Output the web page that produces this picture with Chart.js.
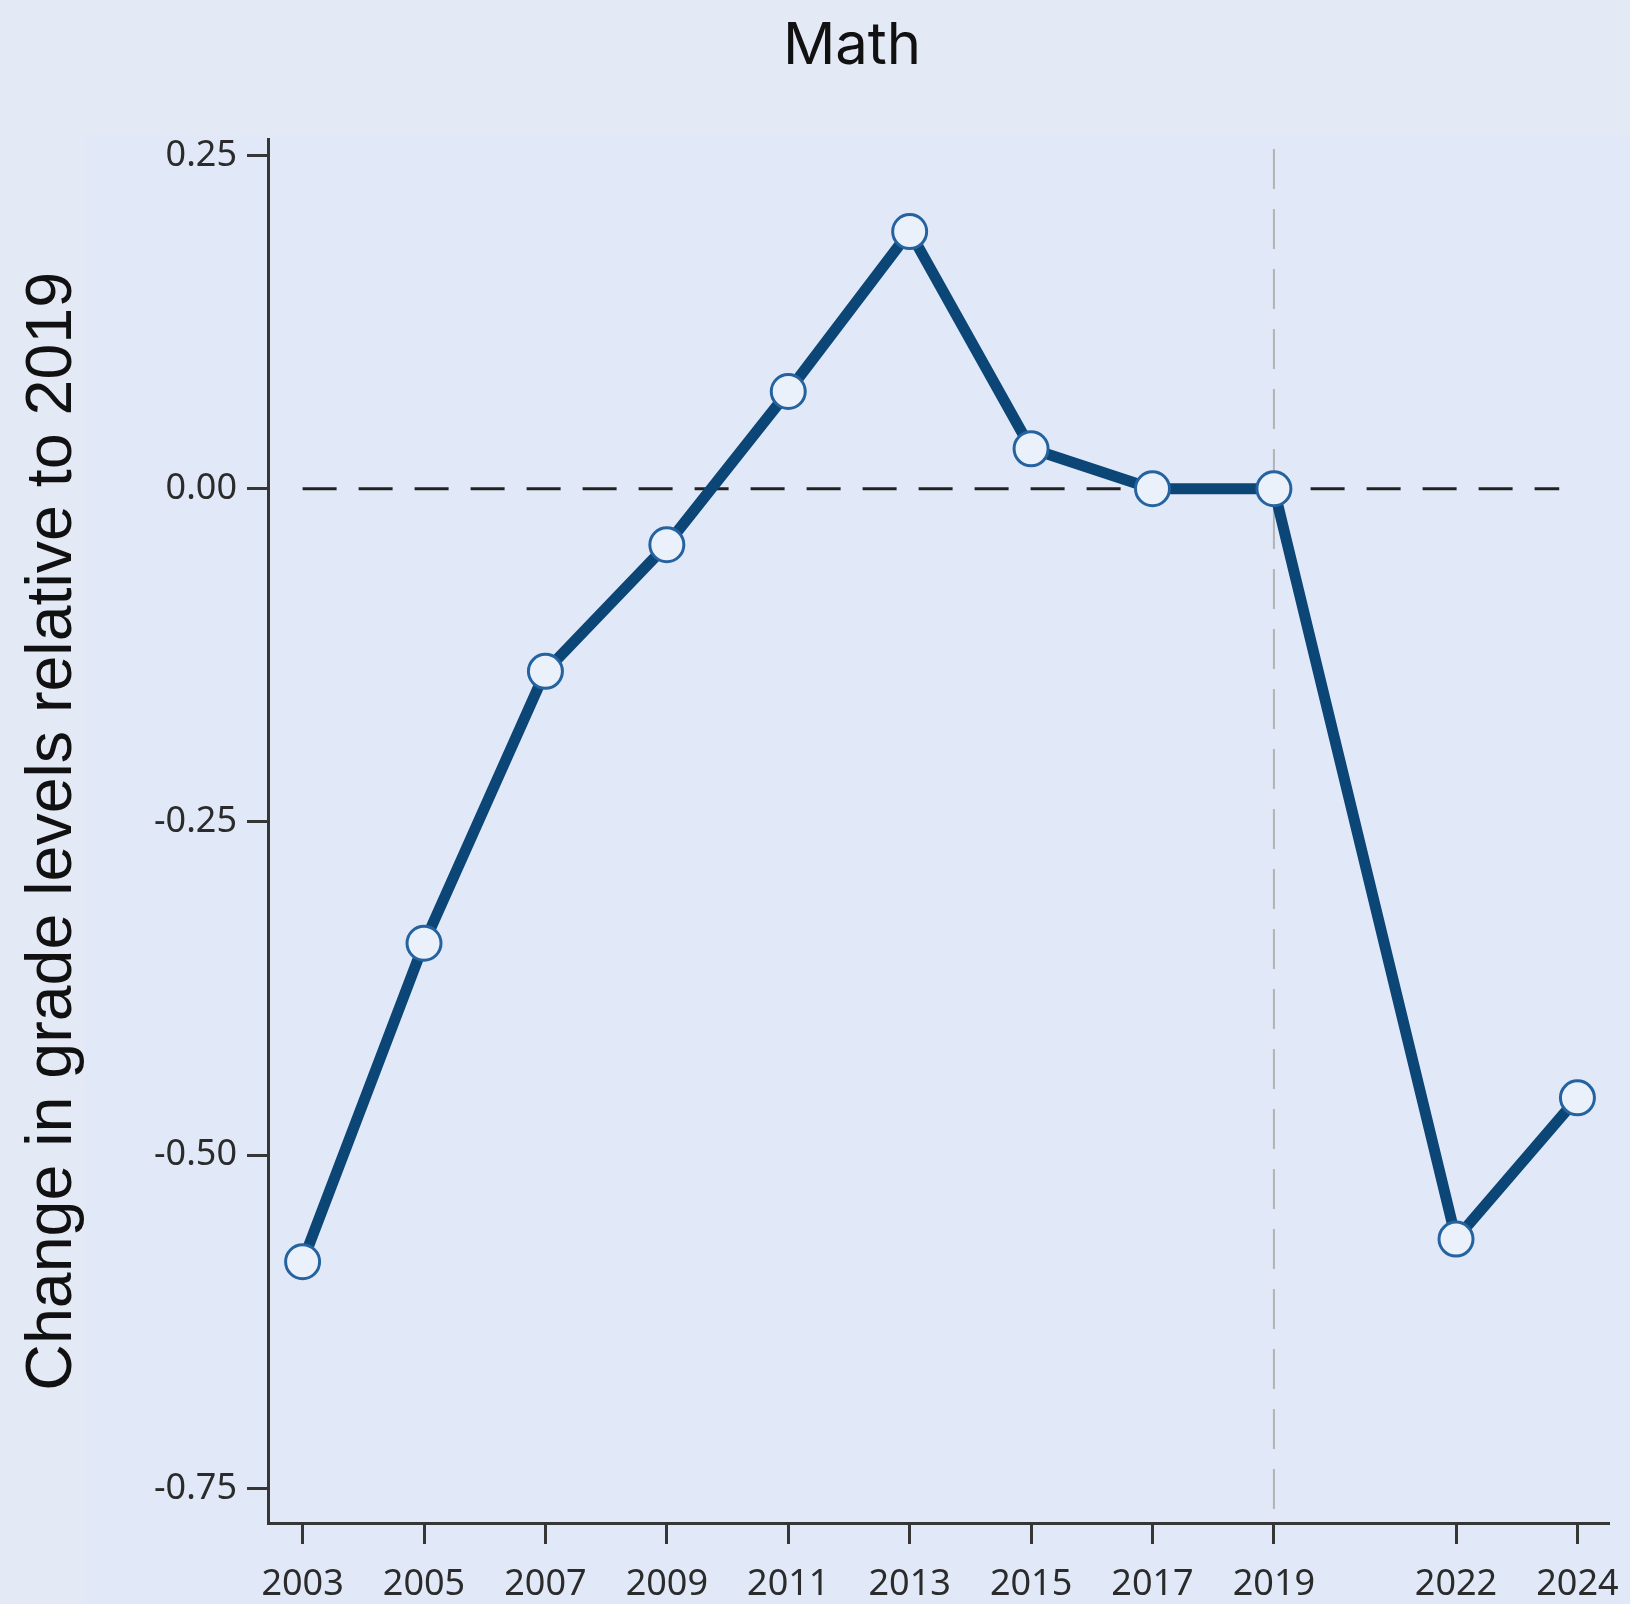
<!DOCTYPE html>
<html>
<head>
<meta charset="utf-8">
<script src="https://cdn.jsdelivr.net/npm/chart.js@4.4.1/dist/chart.umd.min.js"></script>
<style>
  html, body { margin: 0; padding: 0; background: #e4e9f6; }
  #wrap { width: 1630px; height: 1604px; }
</style>
</head>
<body>
<div id="wrap"><canvas id="chart" width="1630" height="1604"></canvas></div>
<script>
// data
const years = [2003, 2005, 2007, 2009, 2011, 2013, 2015, 2017, 2019, 2022, 2024];
const mathChange = [-0.580, -0.341, -0.137, -0.042, 0.073, 0.193, 0.030, 0.000, 0.000, -0.563, -0.457];
const yTicks = [-0.75, -0.5, -0.25, 0, 0.25];
const zeroLineYears = [2003, 2023.7];
const refYear = 2019;
const refSpan = [0.255, -0.776];

const tickFont = { family: "'Noto Sans', 'Open Sans', sans-serif", size: 36 };
const axisColor = "#363636";

// subtle panel background behind the plot
const panelBg = {
  id: "panelBg",
  beforeDraw(chart) {
    const ctx = chart.ctx;
    ctx.save();
    ctx.fillStyle = "#e4e9f6";
    ctx.fillRect(0, 0, chart.width, chart.height);
    ctx.fillStyle = "#e1e9f8";
    ctx.fillRect(85, 135, chart.width - 85, chart.height - 135);
    ctx.restore();
  },
  // the title sits centred over the plot, not the canvas
  afterLayout(chart) {
    if (chart.titleBlock) chart.titleBlock.left = 95;
  },
};

const ctx = document.getElementById("chart").getContext("2d");
new Chart(ctx, {
  type: "line",
  data: {
    datasets: [
      {
        label: "Math",
        data: years.map((y, i) => ({ x: y, y: mathChange[i] })),
        borderColor: "#0c4677",
        borderWidth: 11,
        pointRadius: 17,
        pointBorderWidth: 3,
        pointBorderColor: "#2462a0",
        pointBackgroundColor: "#eaf1fb",
        tension: 0,
      },
      {
        label: "zero",
        data: zeroLineYears.map((y) => ({ x: y, y: 0 })),
        borderColor: "#222",
        borderWidth: 3,
        borderDash: [34, 22],
        pointRadius: 0,
      },
      {
        label: "2019",
        data: refSpan.map((v) => ({ x: refYear, y: v })),
        borderColor: "#b3b3b3",
        borderWidth: 2,
        borderDash: [40, 20],
        pointRadius: 0,
      },
    ],
  },
  options: {
    responsive: false,
    animation: false,
    layout: { padding: { left: 0, right: 21, top: 0, bottom: 0 } },
    plugins: {
      legend: { display: false },
      tooltip: { enabled: false },
      title: {
        display: true,
        text: "Math",
        color: "#111",
        font: { family: "Inter, 'Open Sans', sans-serif", size: 58, weight: "normal" },
        padding: { top: 12, bottom: 58 },
      },
    },
    scales: {
      x: {
        type: "linear",
        min: 2002.43,
        max: 2024.52,
        afterBuildTicks(scale) {
          scale.ticks = years.map((v) => ({ value: v }));
        },
        afterFit(scale) {
          scale.height = 81;
          scale.paddingLeft = 0;
          scale.paddingRight = 0;
        },
        ticks: {
          color: "#2b2b2b",
          font: tickFont,
          padding: 19,
          maxRotation: 0,
          autoSkip: false,
          callback: (v) => String(v),
        },
        grid: {
          display: true,
          drawOnChartArea: false,
          drawTicks: true,
          tickLength: 21,
          tickWidth: 3,
          tickColor: axisColor,
        },
        border: { display: true, color: axisColor, width: 3 },
      },
      y: {
        type: "linear",
        min: -0.776,
        max: 0.262,
        afterBuildTicks(scale) {
          scale.ticks = yTicks.map((v) => ({ value: v }));
        },
        afterFit(scale) {
          scale.width = 268;
          scale.paddingTop = 0;
          scale.paddingBottom = 0;
        },
        ticks: {
          color: "#2b2b2b",
          font: tickFont,
          padding: 10,
          callback: (v) => Number(v).toFixed(2),
        },
        grid: {
          display: true,
          drawOnChartArea: false,
          drawTicks: true,
          tickLength: 21,
          tickWidth: 3,
          tickColor: axisColor,
        },
        border: { display: true, color: axisColor, width: 3 },
        title: {
          display: true,
          text: "Change in grade levels relative to 2019",
          color: "#111",
          font: { family: "'Liberation Sans', Arial, sans-serif", size: 64.5 },
          padding: { top: 15, bottom: 0 },
        },
      },
    },
  },
  plugins: [panelBg],
});
</script>
</body>
</html>
